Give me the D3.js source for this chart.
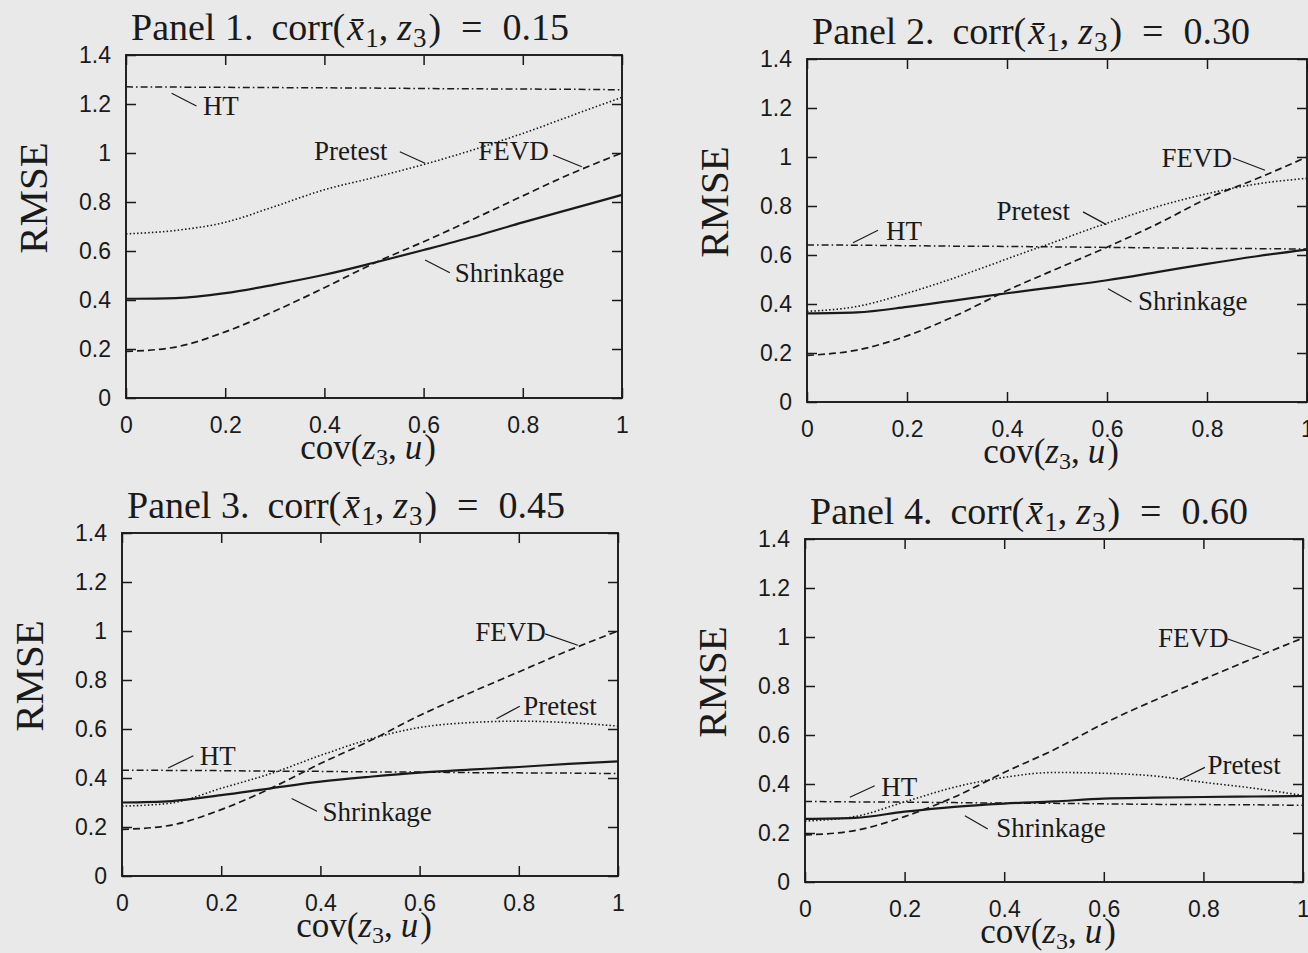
<!DOCTYPE html>
<html>
<head>
<meta charset="utf-8">
<script src="https://cdn.jsdelivr.net/npm/d3@7"></script>
<style>
  body { margin: 0; background: #e9e9e9; }
  .tick text { font-family: "Liberation Sans", Arial, sans-serif; font-size: 23px; fill: #1a1a1a; }
  .tick line { stroke: #1a1a1a; stroke-width: 1.5; }
  .serif { font-family: "Liberation Serif", "Times New Roman", serif; fill: #1a1a1a; }
</style>
</head>
<body>
<div id="chart"></div>
<script>
// x grid shared by every curve
var covVals = [0, 0.1, 0.2, 0.3, 0.4, 0.5, 0.6, 0.7, 0.8, 0.9, 1];
var xTicks = [0, 0.2, 0.4, 0.6, 0.8, 1];
var yTicks = [0, 0.2, 0.4, 0.6, 0.8, 1, 1.2, 1.4];
var corrLabels = ["0.15", "0.30", "0.45", "0.60"];

// panel 1
var ht1     = [1.270, 1.269, 1.268, 1.267, 1.266, 1.265, 1.263, 1.262, 1.261, 1.260, 1.258];
var pretest1 = [0.670, 0.684, 0.717, 0.782, 0.850, 0.900, 0.953, 1.013, 1.080, 1.154, 1.227];
var fevd1   = [0.190, 0.208, 0.270, 0.355, 0.450, 0.550, 0.638, 0.730, 0.825, 0.918, 1.000];
var shrink1 = [0.405, 0.408, 0.428, 0.463, 0.503, 0.552, 0.604, 0.658, 0.717, 0.773, 0.829];

// panel 2
var ht2     = [0.641, 0.640, 0.638, 0.636, 0.635, 0.633, 0.631, 0.629, 0.627, 0.626, 0.624];
var pretest2 = [0.370, 0.390, 0.444, 0.510, 0.584, 0.657, 0.730, 0.797, 0.850, 0.890, 0.913];
var fevd2   = [0.190, 0.212, 0.270, 0.355, 0.455, 0.544, 0.632, 0.726, 0.830, 0.912, 1.000];
var shrink2 = [0.362, 0.366, 0.388, 0.416, 0.444, 0.470, 0.497, 0.530, 0.564, 0.595, 0.622];

// panel 3
var ht3     = [0.432, 0.431, 0.430, 0.428, 0.427, 0.425, 0.424, 0.422, 0.421, 0.420, 0.418];
var pretest3 = [0.285, 0.298, 0.358, 0.418, 0.492, 0.559, 0.606, 0.626, 0.632, 0.626, 0.612];
var fevd3   = [0.190, 0.208, 0.271, 0.358, 0.459, 0.552, 0.655, 0.746, 0.833, 0.920, 1.000];
var shrink3 = [0.300, 0.306, 0.330, 0.358, 0.385, 0.405, 0.422, 0.434, 0.445, 0.458, 0.468];

// panel 4
var ht4     = [0.329, 0.327, 0.326, 0.324, 0.322, 0.321, 0.319, 0.317, 0.316, 0.315, 0.313];
var pretest4 = [0.249, 0.267, 0.327, 0.387, 0.427, 0.447, 0.444, 0.433, 0.407, 0.383, 0.353];
var fevd4   = [0.192, 0.210, 0.267, 0.347, 0.447, 0.540, 0.647, 0.740, 0.827, 0.913, 0.996];
var shrink4 = [0.258, 0.262, 0.287, 0.307, 0.320, 0.329, 0.340, 0.344, 0.347, 0.349, 0.351];

var seriesByPanel = [
  {ht: ht1, pretest: pretest1, fevd: fevd1, shrink: shrink1},
  {ht: ht2, pretest: pretest2, fevd: fevd2, shrink: shrink2},
  {ht: ht3, pretest: pretest3, fevd: fevd3, shrink: shrink3},
  {ht: ht4, pretest: pretest4, fevd: fevd4, shrink: shrink4}
];

// plot boxes on the page
var boxes = [
  {left: 126, top: 55, width: 496, height: 343},
  {left: 807, top: 59, width: 500, height: 343},
  {left: 122, top: 533, width: 496, height: 343},
  {left: 805, top: 539, width: 498, height: 343}
];

// label spots (in data units): text anchor and leader line
var notes = [
  [{t: "HT", x: 0.155, y: 1.155, l: [0.092, 1.244, 0.142, 1.192]},
   {t: "Pretest", x: 0.379, y: 0.971, l: [0.552, 1.005, 0.603, 0.958]},
   {t: "FEVD", x: 0.710, y: 0.971, l: [0.861, 0.992, 0.919, 0.944]},
   {t: "Shrinkage", x: 0.663, y: 0.475, l: [0.603, 0.563, 0.653, 0.511]}],
  [{t: "FEVD", x: 0.709, y: 0.959, l: [0.852, 0.996, 0.916, 0.946]},
   {t: "Pretest", x: 0.379, y: 0.742, l: [0.552, 0.776, 0.599, 0.724]},
   {t: "HT", x: 0.158, y: 0.661, l: [0.092, 0.650, 0.142, 0.701]},
   {t: "Shrinkage", x: 0.662, y: 0.376, l: [0.602, 0.462, 0.649, 0.408]}],
  [{t: "FEVD", x: 0.712, y: 0.958, l: [0.853, 0.988, 0.919, 0.942]},
   {t: "Pretest", x: 0.809, y: 0.658, l: [0.755, 0.642, 0.802, 0.693]},
   {t: "HT", x: 0.157, y: 0.452, l: [0.093, 0.441, 0.144, 0.491]},
   {t: "Shrinkage", x: 0.404, y: 0.226, l: [0.342, 0.316, 0.393, 0.264]}],
  [{t: "FEVD", x: 0.709, y: 0.958, l: [0.849, 0.992, 0.916, 0.944]},
   {t: "Pretest", x: 0.808, y: 0.441, l: [0.752, 0.416, 0.803, 0.468]},
   {t: "HT", x: 0.153, y: 0.352, l: [0.090, 0.346, 0.140, 0.393]},
   {t: "Shrinkage", x: 0.384, y: 0.182, l: [0.321, 0.270, 0.367, 0.216]}]
];

var lineStyles = {
  ht:      {dash: "7,3,1.6,3", width: 1.5},
  pretest: {dash: "1.5,2.2", width: 1.6},
  fevd:    {dash: "7,4", width: 1.7},
  shrink:  {dash: null, width: 2.2}
};

var svg = d3.select("#chart")
  .append("svg")
    .attr("width", 1308)
    .attr("height", 953);

svg.append("rect")
  .attr("width", 1308)
  .attr("height", 953)
  .attr("fill", "#e9e9e9");

function fmt(d) { return String(Math.round(d * 10) / 10); }

function drawPanel(i) {
  var box = boxes[i];
  var g = svg.append("g")
    .attr("transform", "translate(" + box.left + "," + box.top + ")");

  var x = d3.scaleLinear().domain([0, 1]).range([0, box.width]);
  var y = d3.scaleLinear().domain([0, 1.4]).range([box.height, 0]);

  // inward ticks on all four sides
  g.append("g")
    .call(d3.axisLeft(y).tickValues(yTicks).tickSize(-10).tickPadding(15).tickFormat(fmt))
    .call(a => a.select(".domain").remove());
  g.append("g")
    .attr("transform", "translate(" + box.width + ",0)")
    .call(d3.axisRight(y).tickValues(yTicks).tickSize(-10).tickFormat(""))
    .call(a => a.select(".domain").remove());
  g.append("g")
    .attr("transform", "translate(0," + box.height + ")")
    .call(d3.axisBottom(x).tickValues(xTicks).tickSize(-10).tickPadding(19).tickFormat(fmt))
    .call(a => a.select(".domain").remove());
  g.append("g")
    .call(d3.axisTop(x).tickValues(xTicks).tickSize(-10).tickFormat(""))
    .call(a => a.select(".domain").remove());

  g.append("rect")
    .attr("width", box.width)
    .attr("height", box.height)
    .attr("fill", "none")
    .attr("stroke", "#1a1a1a")
    .attr("stroke-width", 1.9);

  // curves
  var s = seriesByPanel[i];
  var line = d3.line()
    .x((d, k) => x(covVals[k]))
    .y(d => y(d))
    .curve(d3.curveMonotoneX);

  ["ht", "fevd", "pretest", "shrink"].forEach(function(key) {
    g.append("path")
      .datum(s[key])
      .attr("d", line)
      .attr("fill", "none")
      .attr("stroke", "#1a1a1a")
      .attr("stroke-width", lineStyles[key].width)
      .attr("stroke-dasharray", lineStyles[key].dash);
  });

  // curve labels with leader lines
  notes[i].forEach(function(n) {
    g.append("line")
      .attr("x1", x(n.l[0])).attr("y1", y(n.l[1]))
      .attr("x2", x(n.l[2])).attr("y2", y(n.l[3]))
      .attr("stroke", "#1a1a1a")
      .attr("stroke-width", 1.2);
    g.append("text")
      .attr("class", "serif")
      .attr("x", x(n.x))
      .attr("y", y(n.y))
      .attr("font-size", 27)
      .text(n.t);
  });

  // title
  var t = g.append("text")
    .attr("class", "serif")
    .attr("x", 5)
    .attr("y", -15)
    .attr("font-size", 38);
  t.append("tspan").text("Panel " + (i + 1) + ".");
  t.append("tspan").attr("dx", 18).text("corr(");
  t.append("tspan").attr("dx", 2).attr("font-style", "italic").text("x\u0304");
  t.append("tspan").attr("dx", 1).attr("font-size", 27).attr("dy", 7).text("1");
  t.append("tspan").attr("dy", -7).text(",");
  t.append("tspan").attr("dx", 9).attr("font-style", "italic").text("z");
  t.append("tspan").attr("dx", 1).attr("font-size", 27).attr("dy", 7).text("3");
  t.append("tspan").attr("dx", 2).attr("dy", -7).text(")");
  t.append("tspan").attr("dx", 20).text("=");
  t.append("tspan").attr("dx", 20).text(corrLabels[i]);

  // axis titles
  g.append("text")
    .attr("class", "serif")
    .attr("transform", "translate(-79," + 143 + ") rotate(-90)")
    .attr("text-anchor", "middle")
    .attr("font-size", 41)
    .text("RMSE");

  var c = g.append("text")
    .attr("class", "serif")
    .attr("x", box.width / 2 - 6)
    .attr("y", box.height + 61)
    .attr("text-anchor", "middle")
    .attr("font-size", 35);
  c.append("tspan").text("cov(");
  c.append("tspan").attr("font-style", "italic").text("z");
  c.append("tspan").attr("font-size", 24).attr("dy", 6).text("3");
  c.append("tspan").attr("dy", -6).text(",");
  c.append("tspan").attr("dx", 8).attr("font-style", "italic").text("u");
  c.append("tspan").attr("dx", 2).text(")");
}

for (var i = 0; i < 4; i++) drawPanel(i);
</script>
</body>
</html>
